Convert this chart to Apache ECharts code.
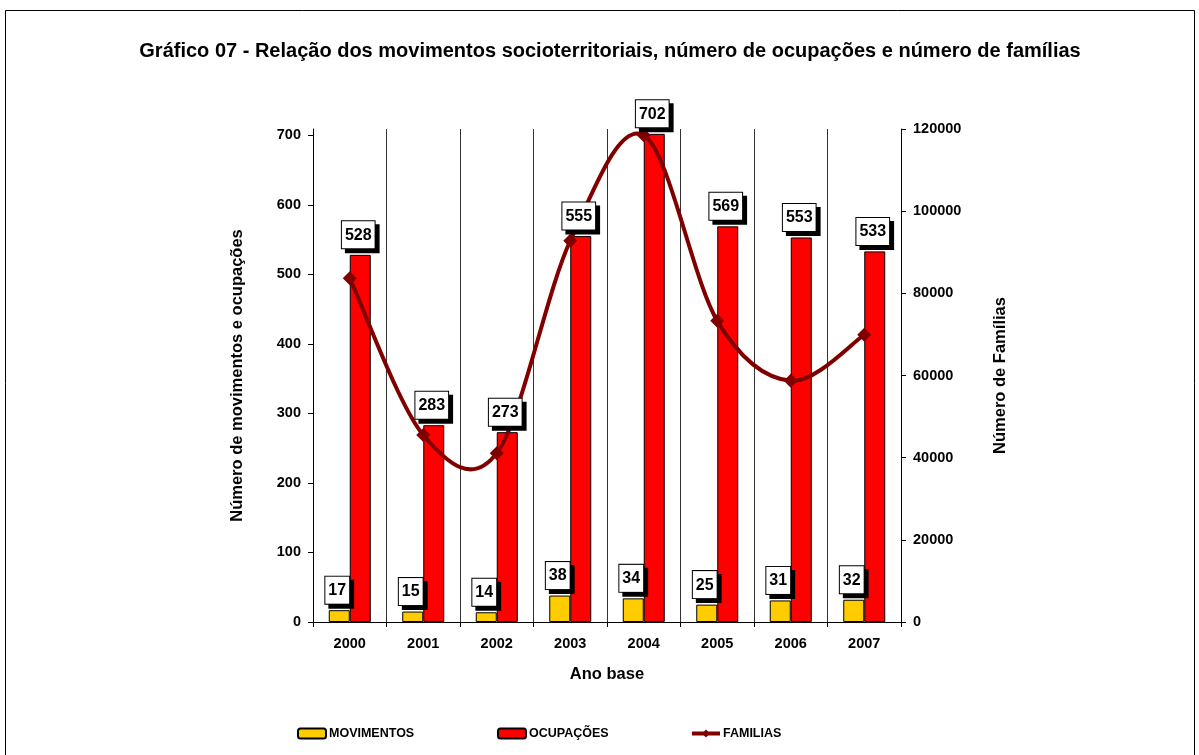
<!DOCTYPE html>
<html>
<head>
<meta charset="utf-8">
<script src="https://cdn.jsdelivr.net/npm/echarts@6/dist/echarts.min.js"></script>
<style>
  html,body{margin:0;padding:0;background:#fff;}
  #chart{width:1199px;height:755px;}
</style>
</head>
<body>
<div id="chart"></div>
<script>
const anos = ['2000','2001','2002','2003','2004','2005','2006','2007']
const movimentos = [17,15,14,38,34,25,31,32]
const ocupacoes = [528,283,273,555,702,569,553,533]
const familias = [83700,45500,41100,92800,118500,73300,58700,69900]
const ticksEsq = [0,100,200,300,400,500,600,700]
const ticksDir = [0,20000,40000,60000,80000,100000,120000]

const fonte = '"Liberation Sans", Arial, sans-serif'

let chart = echarts.init(document.getElementById('chart'))

// rotulos em caixa com sombra, por cima da linha (markPoint)
function rotulos(valores){
  return {
    z:10,
    symbol:'rect',
    symbolSize:1,
    itemStyle:{color:'rgba(0,0,0,0)'},
    silent:true,
    label:{
      show:true,
      position:'top',
      distance:6,
      offset:[-2,0],
      formatter:'{c}',
      fontFamily:fonte,
      fontWeight:'bold',
      fontSize:16,
      color:'#000',
      backgroundColor:'#fff',
      borderColor:'#000',
      borderWidth:1,
      padding:[6,3,5,3],
      shadowColor:'#000',
      shadowBlur:0,
      shadowOffsetX:4,
      shadowOffsetY:4
    },
    data:valores.map((v,i)=>({coord:[i,v],value:v}))
  }
}

// curva suavizada tipo Excel (Catmull-Rom), um trecho por ponto
function trechoCurva(params, api){
  let i = params.dataIndex
  let n = familias.length
  if(i >= n-1) return null
  let p = j => {
    let k = Math.max(0,Math.min(n-1,j))
    return api.coord([k, familias[k]])
  }
  let p0 = p(i-1), p1 = p(i), p2 = p(i+1), p3 = p(i+2)
  return {
    type:'bezierCurve',
    shape:{
      x1:p1[0], y1:p1[1],
      cpx1:p1[0]+(p2[0]-p0[0])/6, cpy1:p1[1]+(p2[1]-p0[1])/6,
      cpx2:p2[0]-(p3[0]-p1[0])/6, cpy2:p2[1]-(p3[1]-p1[1])/6,
      x2:p2[0], y2:p2[1]
    },
    style:{stroke:'#800000',lineWidth:4,fill:null}
  }
}

function legenda(item,esq){
  return {
    left:esq,
    top:722,
    itemWidth:28,
    itemHeight:10,
    itemGap:0,
    textStyle:{fontFamily:fonte,fontWeight:'bold',fontSize:12.5,color:'#000',padding:[0,0,0,-2]},
    data:[item]
  }
}

let option = {
  animation:false,
  backgroundColor:'#fff',
  textStyle:{fontFamily:fonte},
  title:{
    text:'Gráfico 07 - Relação dos movimentos socioterritoriais, número de ocupações e número de famílias',
    left:605,
    textAlign:'center',
    top:36,
    textStyle:{fontFamily:fonte,fontWeight:'bold',fontSize:20,color:'#000'}
  },
  graphic:[{
    type:'rect',
    shape:{x:5.5,y:10.5,width:1189,height:760},
    style:{fill:'none',stroke:'#000',lineWidth:1},
    silent:true
  }],
  legend:[
    legenda('MOVIMENTOS',292),
    legenda('OCUPAÇÕES',492),
    legenda({name:'FAMILIAS',lineStyle:{opacity:1,width:4,color:'#800000'}},685)
  ],
  grid:{
    left:313,
    right:298,
    top:129,
    bottom:133
  },
  xAxis:[{
    type:'category',
    data:anos,
    name:'Ano base',
    nameLocation:'middle',
    nameGap:44,
    nameTextStyle:{fontFamily:fonte,fontWeight:'bold',fontSize:16.5,color:'#000'},
    axisLine:{lineStyle:{color:'#000',width:1}},
    axisTick:{show:true,length:5,lineStyle:{color:'#000'}},
    axisLabel:{fontFamily:fonte,fontWeight:'bold',fontSize:14.5,color:'#000',margin:14},
    splitLine:{show:true,lineStyle:{color:'#333',width:1}}
  }],
  yAxis:[{
    type:'value',
    min:0,
    max:709,
    name:'Número de movimentos e ocupações',
    nameLocation:'middle',
    nameGap:67,
    nameRotate:90,
    nameTextStyle:{fontFamily:fonte,fontWeight:'bold',fontSize:16.5,color:'#000'},
    axisLine:{show:true,lineStyle:{color:'#000'}},
    axisTick:{show:true,length:5,customValues:ticksEsq,lineStyle:{color:'#000'}},
    axisLabel:{customValues:ticksEsq,fontFamily:fonte,fontWeight:'bold',fontSize:14.5,color:'#000',margin:12},
    splitLine:{show:false}
  },{
    type:'value',
    min:0,
    max:120000,
    interval:20000,
    name:'Número de Famílias',
    nameLocation:'middle',
    nameGap:91,
    nameRotate:90,
    nameTextStyle:{fontFamily:fonte,fontWeight:'bold',fontSize:16.5,color:'#000'},
    axisLine:{show:true,lineStyle:{color:'#000'}},
    axisTick:{show:true,length:5,customValues:ticksDir,lineStyle:{color:'#000'}},
    axisLabel:{customValues:ticksDir,fontFamily:fonte,fontWeight:'bold',fontSize:14.5,color:'#000',margin:12,
      formatter:v=>String(v)},
    splitLine:{show:false}
  }],
  series:[{
    name:'MOVIMENTOS',
    type:'bar',
    yAxisIndex:0,
    barWidth:21,
    barGap:'0%',
    data:movimentos,
    itemStyle:{color:'#FFCC00',borderColor:'#000',borderWidth:1},
    markPoint:rotulos(movimentos)
  },{
    name:'OCUPAÇÕES',
    type:'bar',
    yAxisIndex:0,
    barWidth:21,
    barGap:'0%',
    data:ocupacoes,
    itemStyle:{color:'#FF0000',borderColor:'#000',borderWidth:1},
    markPoint:rotulos(ocupacoes)
  },{
    name:'FAMILIAS',
    type:'line',
    yAxisIndex:1,
    data:familias,
    symbol:'diamond',
    symbolSize:14,
    z:5,
    lineStyle:{color:'#800000',width:4,opacity:0},
    itemStyle:{color:'#800000'}
  },{
    name:'FAMILIAS',
    type:'custom',
    yAxisIndex:1,
    data:familias.map((v,i)=>[i,v]),
    renderItem:trechoCurva,
    z:4,
    itemStyle:{color:'#800000'}
  }]
}

chart.setOption(option)
</script>
</body>
</html>
